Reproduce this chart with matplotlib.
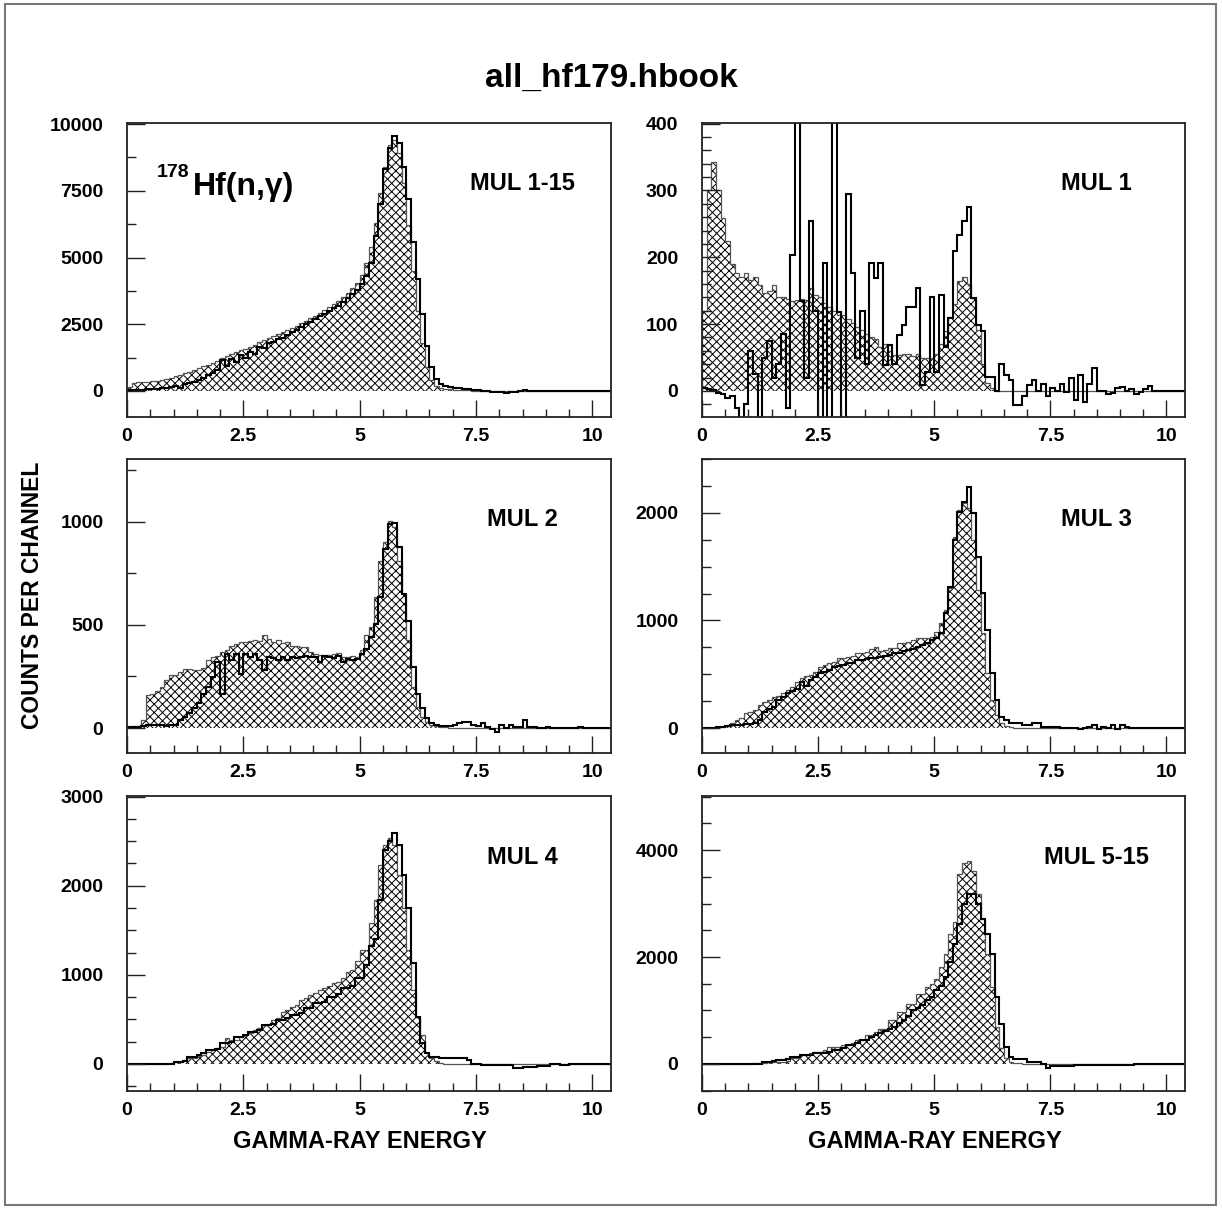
import numpy as np
import matplotlib
matplotlib.use('Agg')
import matplotlib.pyplot as plt
from matplotlib.ticker import MultipleLocator, FixedLocator, FuncFormatter
from matplotlib.patches import Rectangle

plt.rcParams['font.family'] = ['Liberation Sans', 'DejaVu Sans']
plt.rcParams['font.weight'] = 'bold'
plt.rcParams['hatch.linewidth'] = 0.7

# ---------------- data (counts per 0.1 MeV channel, 0 .. 10.4) ----------------
energy_edges = np.round(np.arange(0, 10.41, 0.1), 2)

mul1_15_hatched = [
    150, 300, 330, 330, 340, 360, 380, 410, 450, 500,
    560, 610, 660, 720, 780, 850, 920, 990, 1060, 1140,
    1220, 1300, 1380, 1450, 1520, 1590, 1660, 1740, 1820, 1900,
    1970, 2050, 2130, 2210, 2290, 2370, 2450, 2540, 2630, 2720,
    2820, 2920, 3020, 3130, 3250, 3380, 3520, 3680, 3850, 4050,
    4350, 4800, 5400, 6300, 7400, 8400, 9200, 9400, 8900, 7800,
    6200, 4500, 3000, 1800, 900, 400, 200, 120, 90, 70,
    50, 40, 30, 20, 10, 5, 0, 0, 0, 0,
    0, 0, 0, 0, 0, 0, 0, 0, 0, 0,
    0, 0, 0, 0, 0, 0, 0, 0, 0, 0,
    0, 0, 0, 0]
mul1_15_line = [
    20, 30, 40, 50, 60, 70, 80, 100, 120, 150,
    180, 100, 250, 300, 350, 420, 500, 580, 680, 800,
    1150, 950, 1200, 1100, 1350, 1250, 1450, 1400, 1650, 1600,
    1800, 1850, 1950, 2000, 2100, 2200, 2300, 2400, 2500, 2600,
    2700, 2800, 2900, 3000, 3100, 3200, 3350, 3500, 3650, 3800,
    4000, 4300, 4800, 5800, 7000, 8300, 9100, 9550, 9300, 8400,
    7200, 5600, 4200, 2900, 1700, 900, 450, 250, 180, 150,
    120, 100, 80, 60, 40, 20, 10, 0, -20, -30,
    -40, -60, -30, -20, 0, 20, -10, 0, 10, 0,
    -10, 0, 10, 0, -10, 0, 5, 0, 0, 0,
    0, 0, 0, 0]

mul1_hatched = [
    119, 300, 342, 300, 259, 224, 190, 176, 171, 176,
    166, 170, 159, 146, 150, 159, 140, 140, 138, 135,
    136, 138, 136, 154, 144, 140, 131, 125, 119, 114,
    114, 108, 101, 95, 91, 85, 81, 78, 66, 71,
    60, 54, 54, 55, 55, 52, 55, 50, 49, 49,
    55, 70, 90, 110, 130, 165, 170, 160, 139, 91,
    40, 12, 4, 0, 0, 0, 0, 0, 0, 0,
    0, 0, 0, 0, 0, 0, 0, 0, 0, 0,
    0, 0, 0, 0, 0, 0, 0, 0, 0, 0,
    0, 0, 0, 0, 0, 0, 0, 0, 0, 0,
    0, 0, 0, 0]
mul1_line = [
    5, 3, 2, -3, -5, -10, -8, -25, -60, -20,
    60, 25, -60, 50, 75, 20, 40, 85, -25, 204,
    480, 135, 20, 254, 120, -60, 192, -60, 480, 118,
    -60, 294, 176, 50, 119, 40, 191, 169, 192, 39,
    69, 40, 84, 99, 126, 126, 154, 9, 29, 141,
    29, 144, 66, 109, 209, 234, 254, 276, 139, 99,
    90, 21, 21, 0, 41, 24, 16, -21, -21, -8,
    9, 16, 0, 10, -8, 5, 0, 10, -2, 20,
    -13, 24, -16, 10, 34, 0, 0, -5, -3, 4,
    6, 0, 3, -4, -2, 3, 7, 0, 0, 0,
    0, 0, 0, 0]

mul2_hatched = [
    5, 10, 10, 40, 160, 165, 180, 200, 232, 256,
    256, 270, 288, 288, 283, 283, 290, 328, 345, 350,
    369, 380, 400, 405, 417, 417, 420, 425, 420, 449,
    430, 417, 425, 410, 415, 400, 400, 393, 393, 370,
    360, 355, 352, 352, 360, 365, 345, 345, 350, 345,
    380, 450, 489, 634, 811, 900, 1004, 972, 811, 650,
    425, 200, 103, 55, 30, 15, 8, 5, 3, 2,
    0, 0, 0, 0, 0, 0, 0, 0, 0, 0,
    0, 0, 0, 0, 0, 0, 0, 0, 0, 0,
    0, 0, 0, 0, 0, 0, 0, 0, 0, 0,
    0, 0, 0, 0]
mul2_line = [
    3, 5, 6, 10, 14, 14, 14, 14, 12, 14,
    14, 40, 55, 71, 95, 119, 167, 200, 248, 320,
    167, 360, 328, 360, 264, 360, 345, 360, 330, 280,
    345, 340, 330, 345, 328, 345, 340, 345, 350, 345,
    345, 320, 350, 345, 340, 350, 320, 336, 330, 336,
    360, 385, 440, 505, 634, 868, 988, 996, 876, 650,
    521, 296, 167, 95, 47, 22, 14, 10, 10, 12,
    14, 22, 30, 28, 14, 10, 22, 5, -6, -18,
    14, 0, 14, 5, 3, 39, 5, 3, 0, 2,
    3, 0, -2, 0, 2, 0, 0, 3, 0, 0,
    0, 0, 0, 0]

mul3_hatched = [
    0, 2, 3, 5, 10, 20, 43, 74, 90, 136,
    150, 167, 214, 240, 260, 291, 300, 322, 353, 384,
    430, 462, 480, 493, 524, 570, 586, 600, 617, 648,
    650, 663, 670, 694, 700, 710, 730, 756, 720, 725,
    741, 741, 787, 790, 803, 818, 834, 834, 840, 849,
    896, 973, 1100, 1300, 1779, 2027, 2089, 2043, 1748, 1283,
    880, 508, 260, 121, 43, 15, 5, 0, 0, 0,
    0, 0, 0, 0, 0, 0, 0, 0, 0, 0,
    0, 0, 0, 0, 0, 0, 0, 0, 0, 0,
    0, 0, 0, 0, 0, 0, 0, 0, 0, 0,
    0, 0, 0, 0]
mul3_line = [
    0, 2, 3, 5, 8, 15, 28, 28, 30, 35,
    40, 45, 74, 150, 180, 200, 260, 290, 322, 340,
    360, 430, 390, 446, 477, 508, 525, 540, 570, 580,
    586, 601, 601, 632, 632, 640, 648, 655, 663, 670,
    680, 694, 700, 715, 725, 735, 750, 772, 790, 818,
    840, 880, 1066, 1314, 1748, 2011, 2100, 2244, 1996, 1593,
    1252, 911, 508, 260, 105, 74, 43, 43, 43, 28,
    28, 43, 43, 12, 10, 10, 5, 3, 0, -3,
    -3, -12, 0, 5, 28, -5, 5, 0, 28, -12,
    28, 5, 0, 3, 0, 0, 2, 0, 0, 0,
    0, 0, 0, 0]

mul4_hatched = [
    0, 0, 0, 0, 0, 0, 0, 3, 5, 10,
    26, 26, 40, 64, 64, 90, 101, 130, 157, 180,
    195, 288, 265, 270, 300, 326, 350, 382, 400, 438,
    450, 494, 520, 588, 600, 644, 660, 719, 740, 775,
    800, 831, 850, 880, 906, 925, 960, 1037, 1056, 1150,
    1281, 1281, 1580, 1843, 2236, 2460, 2535, 2460, 2123, 1749,
    1281, 831, 532, 326, 120, 64, 30, 15, 5, 0,
    0, 0, 0, 0, 0, 0, 0, 0, 0, 0,
    0, 0, 0, 0, 0, 0, 0, 0, 0, 0,
    0, 0, 0, 0, 0, 0, 0, 0, 0, 0,
    0, 0, 0, 0]
mul4_line = [
    0, 0, 0, 0, 0, 0, 0, 2, 3, 5,
    20, 26, 30, 82, 82, 101, 120, 157, 157, 170,
    232, 232, 250, 307, 307, 320, 363, 363, 380, 438,
    438, 450, 494, 494, 520, 550, 550, 570, 625, 625,
    682, 682, 700, 756, 756, 780, 850, 850, 880, 962,
    962, 1112, 1318, 1400, 1843, 2404, 2498, 2592, 2460, 2123,
    1749, 1131, 532, 232, 120, 82, 82, 64, 64, 64,
    64, 64, 64, 45, 0, 0, -11, -11, -11, -11,
    -11, -11, -11, -49, -49, -30, -30, -30, -20, -20,
    -20, 0, 0, -10, -10, -5, -5, 0, 0, 0,
    0, 0, 0, 0]

mul5_15_hatched = [
    0, 0, 0, 0, 0, 0, 0, 0, 0, 0,
    5, 10, 12, 12, 30, 43, 43, 43, 60, 105,
    105, 167, 167, 200, 229, 229, 260, 322, 322, 322,
    353, 353, 400, 446, 446, 539, 539, 600, 663, 663,
    818, 818, 973, 973, 1128, 1128, 1314, 1314, 1438, 1500,
    1593, 1810, 2058, 2430, 2647, 3546, 3763, 3794, 3608, 3174,
    2709, 2058, 1438, 694, 291, 105, 40, 20, 10, 5,
    0, 0, 0, 0, 0, 0, 0, 0, 0, 0,
    0, 0, 0, 0, 0, 0, 0, 0, 0, 0,
    0, 0, 0, 0, 0, 0, 0, 0, 0, 0,
    0, 0, 0, 0]
mul5_15_line = [
    0, 0, 0, 0, 0, 0, 0, 0, 0, 0,
    0, -5, -5, 43, 43, 60, 74, 74, 100, 136,
    136, 167, 167, 167, 198, 198, 198, 230, 260, 260,
    300, 353, 353, 400, 446, 446, 500, 539, 580, 620,
    663, 700, 760, 818, 900, 1004, 1050, 1100, 1190, 1250,
    1376, 1450, 1624, 1900, 2244, 2616, 2988, 3174, 3174, 2988,
    2709, 2430, 2058, 1252, 756, 322, 136, 87, 87, 87,
    43, 43, 43, 0, -81, -37, -37, -37, -37, -30,
    -20, -20, -20, -20, -20, -20, -20, -10, -10, -10,
    -10, -10, -10, -5, -5, 0, 0, 0, 0, 0,
    0, 0, 0, 0]

panel_labels = ['MUL 1-15', 'MUL 1', 'MUL 2', 'MUL 3', 'MUL 4', 'MUL 5-15']
hatched_series = [mul1_15_hatched, mul1_hatched, mul2_hatched,
                  mul3_hatched, mul4_hatched, mul5_15_hatched]
line_series = [mul1_15_line, mul1_line, mul2_line,
               mul3_line, mul4_line, mul5_15_line]
y_limits = [(-975, 10040), (-39, 401), (-121, 1304),
            (-232, 2500), (-303, 3006), (-505, 5010)]
y_label_step = [2500, 100, 500, 1000, 1000, 2000]
y_minor_step = [1250, 20, 250, 250, 250, 500]
x_tick_values = [0, 2.5, 5, 7.5, 10]
x_tick_labels = ['0', '2.5', '5', '7.5', '10']

# ---------------- layout ----------------
W, H = 1222, 1209
fig = plt.figure(figsize=(W / 100, H / 100), dpi=100)

col_left = [127, 702]
col_width = [484, 483]
row_top = [123, 459, 796]
row_bottom = [417, 753, 1091]

axes = []
for r in range(3):
    for c in range(2):
        l = col_left[c] / W
        b = 1 - row_bottom[r] / H
        w = col_width[c] / W
        h = (row_bottom[r] - row_top[r]) / H
        axes.append(fig.add_axes([l, b, w, h]))

for i, ax in enumerate(axes):
    hv = np.array(hatched_series[i], dtype=float)
    lv = np.array(line_series[i], dtype=float)
    ax.stairs(hv, energy_edges, baseline=0, fill=True, facecolor='none',
              edgecolor='black', hatch='xxxx', linewidth=0)
    ax.stairs(hv, energy_edges, baseline=0, color='#555555', linewidth=0.9)
    ax.stairs(lv, energy_edges, baseline=None, color='black', linewidth=1.5)

    ax.set_xlim(0, 10.4)
    ax.set_ylim(*y_limits[i])
    ax.xaxis.set_major_locator(FixedLocator(x_tick_values))
    ax.set_xticklabels(x_tick_labels)
    ax.xaxis.set_minor_locator(MultipleLocator(0.5))
    ax.yaxis.set_major_locator(MultipleLocator(y_label_step[i]))
    ax.yaxis.set_minor_locator(MultipleLocator(y_minor_step[i]))
    ax.yaxis.set_major_formatter(FuncFormatter(lambda v, p: '%d' % round(v)))

    ax.tick_params(which='both', direction='in', top=False, right=False,
                   labelsize=14, width=1.0, color='#222222')
    ax.tick_params(axis='x', which='major', length=12, pad=8)
    ax.tick_params(axis='x', which='minor', length=6)
    ax.tick_params(axis='y', which='major', length=13, pad=17)
    ax.tick_params(axis='y', which='minor', length=6.5)
    for lab in ax.get_xticklabels() + ax.get_yticklabels():
        lab.set_fontweight('bold')
    for sp in ax.spines.values():
        sp.set_linewidth(1.3)
        sp.set_color('#222222')

    ax.text(8.5, 0.793, panel_labels[i], transform=ax.get_xaxis_transform(),
            ha='center', va='center', fontsize=17, fontweight='bold')

# reaction label in first panel
axes[0].text(0.062, 0.816, '178', transform=axes[0].transAxes,
             ha='left', va='baseline', fontsize=14, fontweight='bold')
axes[0].text(0.136, 0.755, 'Hf(n,\u03b3)', transform=axes[0].transAxes,
             ha='left', va='baseline', fontsize=23, fontweight='bold')

# figure texts
fig.text(0.5, 1 - 78 / H, 'all_hf179.hbook', ha='center', va='center',
         fontsize=24, fontweight='bold')
fig.text(33 / W, 1 - 595 / H, 'COUNTS PER CHANNEL', rotation=90,
         ha='center', va='center', fontsize=16.5, fontweight='bold')
for c in range(2):
    fig.text((col_left[c] + 5 * 46.5) / W, 1 - 1142 / H, 'GAMMA-RAY ENERGY',
             ha='center', va='center', fontsize=17, fontweight='bold')

fig.patches.append(Rectangle((5 / W, 4 / H), (1216 - 5) / W, (1205 - 4) / H,
                             transform=fig.transFigure, fill=False,
                             edgecolor='#777777', linewidth=1.5))

fig.savefig('out.png', dpi=100)
